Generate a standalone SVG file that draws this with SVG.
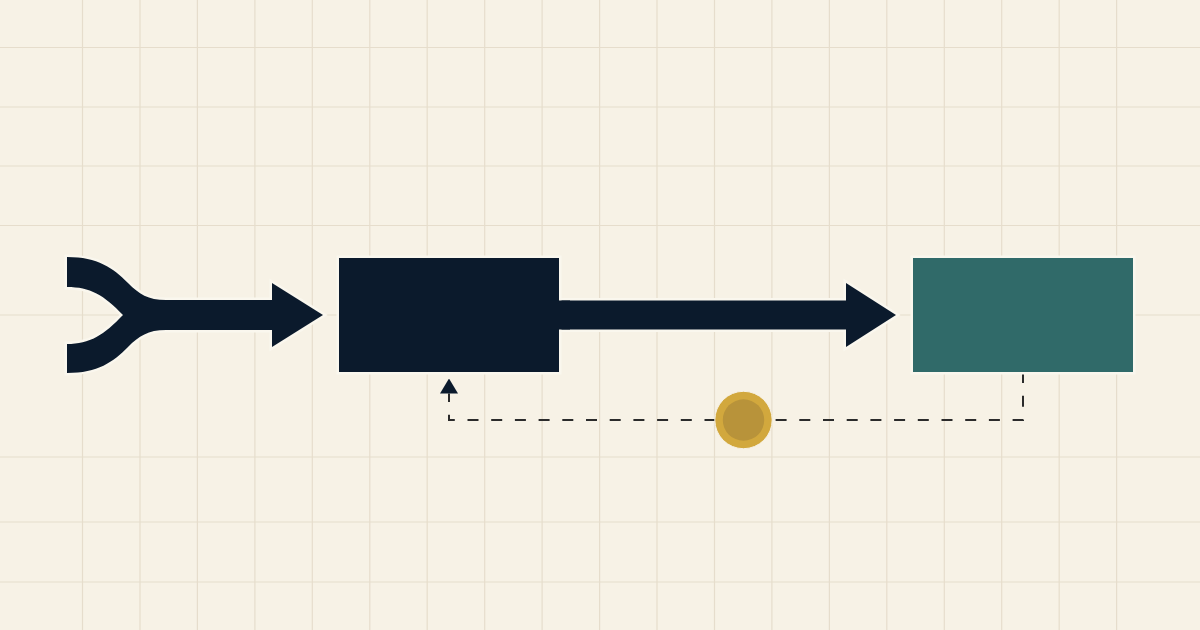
<svg xmlns="http://www.w3.org/2000/svg" width="1200" height="630" viewBox="0 0 1200 630">
  <style>
    .grid line { stroke: #e6ddcc; stroke-width: 1.2; }
    .halo { stroke: #faf7ee; stroke-width: 5; paint-order: stroke; stroke-linejoin: miter; }
    .dark { fill: #0b1a2c; }
    .teal { fill: #306a69; }
    .dash { fill: none; stroke: #2b2b2b; stroke-width: 2; stroke-dasharray: 11 12.7; }
  </style>
  <defs>
    <marker id="tri" markerUnits="userSpaceOnUse" markerWidth="15" markerHeight="18" viewBox="0 0 15 18" refX="0" refY="9" orient="auto">
      <path d="M0 0 L15 9 L0 18 Z" fill="#0b1a2c"/>
    </marker>
  </defs>
  <rect x="0" y="0" width="1200" height="630" fill="#f7f2e6"/>
  <g class="grid" id="grid">
    <line x1="82.5" y1="0" x2="82.5" y2="630"/>
    <line x1="140" y1="0" x2="140" y2="630"/>
    <line x1="197.4" y1="0" x2="197.4" y2="630"/>
    <line x1="254.9" y1="0" x2="254.9" y2="630"/>
    <line x1="312.3" y1="0" x2="312.3" y2="630"/>
    <line x1="369.8" y1="0" x2="369.8" y2="630"/>
    <line x1="427.2" y1="0" x2="427.2" y2="630"/>
    <line x1="484.7" y1="0" x2="484.7" y2="630"/>
    <line x1="542.1" y1="0" x2="542.1" y2="630"/>
    <line x1="599.6" y1="0" x2="599.6" y2="630"/>
    <line x1="657" y1="0" x2="657" y2="630"/>
    <line x1="714.5" y1="0" x2="714.5" y2="630"/>
    <line x1="771.9" y1="0" x2="771.9" y2="630"/>
    <line x1="829.4" y1="0" x2="829.4" y2="630"/>
    <line x1="886.8" y1="0" x2="886.8" y2="630"/>
    <line x1="944.3" y1="0" x2="944.3" y2="630"/>
    <line x1="1001.7" y1="0" x2="1001.7" y2="630"/>
    <line x1="1059.2" y1="0" x2="1059.2" y2="630"/>
    <line x1="1116.6" y1="0" x2="1116.6" y2="630"/>
    <line x1="0" y1="47.5" x2="1200" y2="47.5"/>
    <line x1="0" y1="107" x2="1200" y2="107"/>
    <line x1="0" y1="166" x2="1200" y2="166"/>
    <line x1="0" y1="225.5" x2="1200" y2="225.5"/>
    <line x1="0" y1="315" x2="1200" y2="315"/>
    <line x1="0" y1="457" x2="1200" y2="457"/>
    <line x1="0" y1="522" x2="1200" y2="522"/>
    <line x1="0" y1="582" x2="1200" y2="582"/>
  </g>
  <g id="connectors">
    <path id="merge-arrow" class="dark halo" d="M67 257 C98 257 113 268 128 283 C139 294 148 300 166 300 L272 300 L272 283 L323 315 L272 347 L272 330 L166 330 C148 330 139 336 128 347 C113 362 98 373 67 373 L67 344 C90 344 104 335 123 315 C104 295 90 287 67 287 Z"/>
    <path id="main-arrow" class="dark halo" d="M559 300.5 L846 300.5 L846 283 L896 315 L846 347 L846 329.5 L559 329.5 Z"/>
    <path id="feedback" class="dash" d="M1023 372 L1023 420 L449 420 L449 393.5" marker-end="url(#tri)"/>
  </g>
  <g id="node-process">
    <rect class="dark halo" x="339" y="258" width="220" height="114"/>
    <rect class="dark" x="550" y="300.5" width="20" height="29"/>
  </g>
  <g id="node-output">
    <rect class="teal halo" x="913" y="258" width="220" height="114"/>
  </g>
  <g id="node-checkpoint">
    <circle cx="743.5" cy="420" r="28.7" fill="#d2a83d" stroke="#f7f2e6" stroke-width="1"/>
    <circle cx="743.5" cy="420" r="20.7" fill="#b8933a"/>
  </g>
</svg>
